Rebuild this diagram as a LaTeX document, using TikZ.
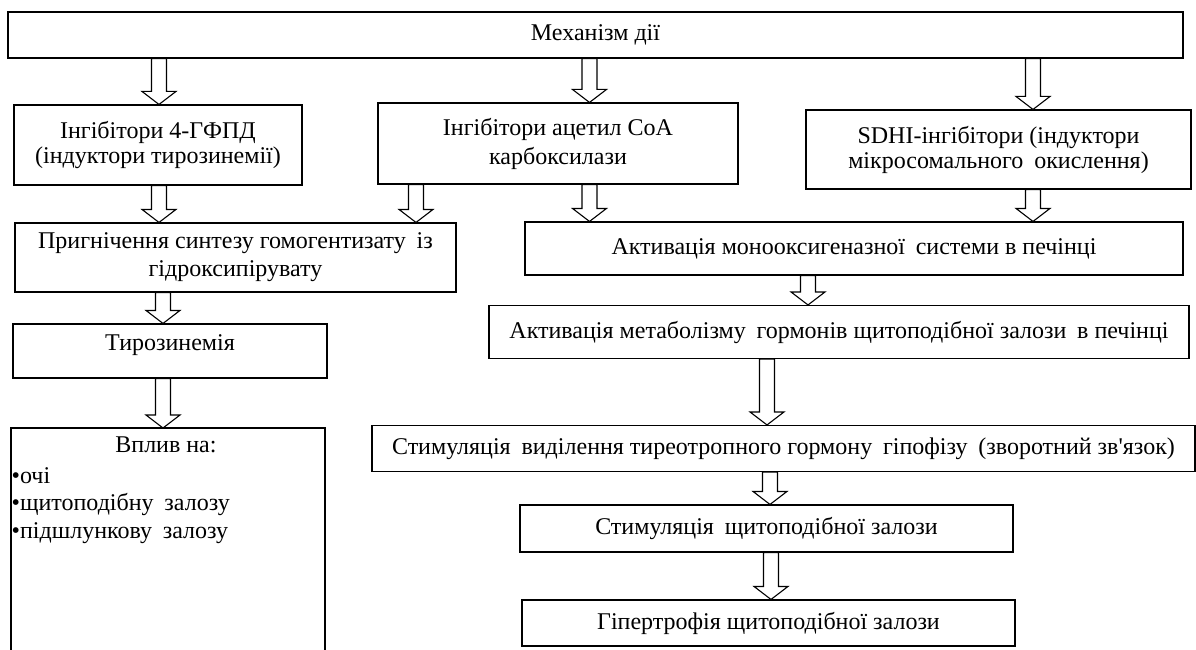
\documentclass[tikz,border=0pt]{standalone}
\usepackage{fontspec}
\setmainfont{Liberation Serif}[Ligatures=TeXOff]
\usetikzlibrary{calc}
\newcommand\wsp{\hspace{0.45em}}
\tikzset{
  box/.style={draw, line width=1.1pt, fill=white, inner sep=0pt, align=center,
    font=\fontsize{24}{26}\selectfont},
  txt/.style={inner sep=0pt, font=\fontsize{24}{26}\selectfont},
  blk/.style={draw, line width=1.1pt, fill=white,
    to path={let \p1=(\tikztostart), \p2=(\tikztotarget) in
      (\x1-7.5pt,\y1) -- (\x1-7.5pt,\y2+13pt) -- (\x1-17pt,\y2+13pt) -- (\x1,\y2)
      -- (\x1+17pt,\y2+13pt) -- (\x1+7.5pt,\y2+13pt) -- (\x1+7.5pt,\y1) -- cycle}}
}
\begin{document}
\begin{tikzpicture}[x=1pt,y=-1pt]
\useasboundingbox (0,0) rectangle (1196,650);
\fill[white] (0,0) rectangle (1196,650);

% boxes
\node[box, minimum width=1175, minimum height=46] (top) at (595.5,35) {Механізм дії};
\node[box, minimum width=288, minimum height=80, font=\fontsize{24}{25}\selectfont] (b1) at (158,145)
  {Інгібітори 4-ГФПД\\(індуктори тирозинемії)};
\node[box, minimum width=360, minimum height=81, font=\fontsize{24}{29}\selectfont] (b2) at (558,143.5)
  {Інгібітори ацетил CoA\\карбоксилази};
\node[box, minimum width=385, minimum height=79, font=\fontsize{24}{25}\selectfont] (b3) at (998.5,149.5)
  {SDHI-інгібітори (індуктори\\мікросомального\wsp окислення)};
\node[box, minimum width=441, minimum height=69, font=\fontsize{24}{28}\selectfont] (b4) at (235.5,257.5)
  {Пригнічення синтезу гомогентизату\wsp із\\гідроксипірувату};
\node[box, minimum width=658, minimum height=53] (b5) at (854,248.5)
  {Активація монооксигеназної\wsp системи в печінці};
\node[box, minimum width=700, minimum height=53] (b6) at (839,332)
  {Активація метаболізму\wsp гормонів щитоподібної залози\wsp в печінці};
\node[box, minimum width=314, minimum height=54] (b7) at (170,351) {};
\node[txt, anchor=base] (t7) at (170,350) {Тирозинемія};
\draw[line width=1.1pt, fill=white] (11,428) rectangle (325,662);
\coordinate (b8) at (168,428);
\node[txt, anchor=base] (t8) at (166,452) {Вплив на:};
\node[txt, anchor=base west] (t8a) at (11.5,483) {•очі};
\node[txt, anchor=base west] (t8b) at (11.5,510) {•щитоподібну\wsp залозу};
\node[txt, anchor=base west] (t8c) at (11.5,538) {•підшлункову\wsp залозу};
\node[box, minimum width=823, minimum height=46] (b9) at (783.5,448.5)
  {Стимуляція\wsp виділення тиреотропного гормону\wsp гіпофізу\wsp (зворотний зв'язок)};
\node[box, minimum width=493, minimum height=47] (b10) at (766.5,528.5)
  {Стимуляція\wsp щитоподібної залози};
\node[box, minimum width=493, minimum height=46] (b11) at (768.5,623)
  {Гіпертрофія щитоподібної залози};

% arrow x positions
\coordinate (xa) at (159,0);
\coordinate (xb) at (589.5,0);
\coordinate (xc) at (1033,0);
\coordinate (xd) at (416,0);
\coordinate (xe) at (163,0);
\coordinate (xf) at (808,0);
\coordinate (xg) at (767,0);
\coordinate (xh) at (770,0);
\coordinate (xi) at (771,0);

% block arrows
\draw[blk] (top.south -| xa) to (b1.north -| xa);
\draw[blk] (top.south -| xb) to (b2.north -| xb);
\draw[blk] (top.south -| xc) to (b3.north -| xc);
\draw[blk] (b1.south -| xa) to (b4.north -| xa);
\draw[blk] (b2.south -| xd) to (b4.north -| xd);
\draw[blk] (b2.south -| xb) to (b5.north -| xb);
\draw[blk] (b3.south -| xc) to (b5.north -| xc);
\draw[blk] (b4.south -| xe) to (b7.north -| xe);
\draw[blk] (b7.south -| xe) to (b8 -| xe);
\draw[blk] (b5.south -| xf) to (b6.north -| xf);
\draw[blk] (b6.south -| xg) to (b9.north -| xg);
\draw[blk] (b9.south -| xh) to (b10.north -| xh);
\draw[blk] (b10.south -| xi) to (b11.north -| xi);
\end{tikzpicture}
\end{document}
